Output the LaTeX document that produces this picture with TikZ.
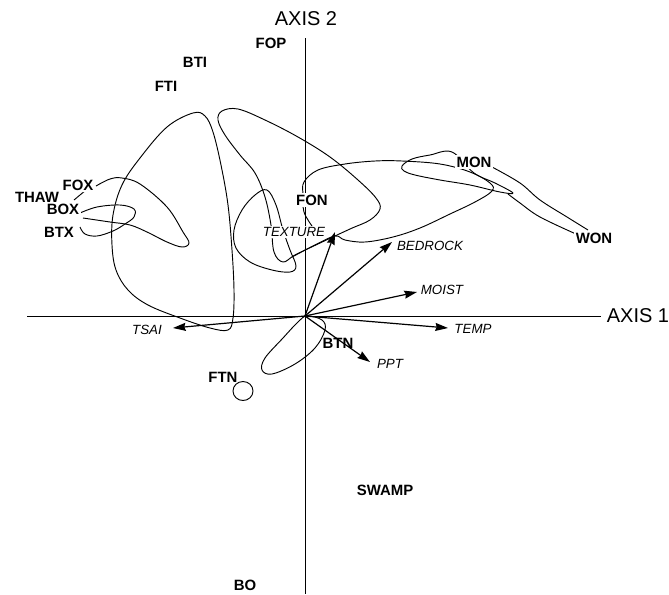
\documentclass[tikz,border=0pt]{standalone}
\usepackage{fontspec}
\setmainfont{Liberation Sans}
\usetikzlibrary{arrows.meta}

\tikzset{
  site/.style={font=\fontsize{11.2}{12}\selectfont\bfseries, inner sep=1pt},
  sitew/.style={site, fill=white},
  vlab/.style={font=\fontsize{10}{11}\selectfont\itshape, inner sep=1pt},
  axlab/.style={font=\fontsize{15}{16}\selectfont, inner sep=0pt},
  vec/.style={line width=0.9pt, -{Stealth[length=9.5pt,width=6pt,inset=1pt]}},
  hull/.style={line width=0.7pt, line join=round},
}

\begin{document}
\begin{tikzpicture}[x=0.75pt, y=-0.75pt]
\useasboundingbox (0,0) rectangle (669,594);
% axes
\coordinate (O) at (305,316);
\draw[line width=0.7pt] (27,316) -- (601,316);
\draw[line width=0.7pt] (305,38) -- (305,594);
\node[axlab] (ax1) at (638,316) {AXIS 1};
\node[axlab] (ax2) at (306,19) {AXIS 2};

% hulls
\draw[hull] plot[smooth cycle, tension=0.6] coordinates {(193,113) (167,127) (140,158) (122,185) (113,215) (112,245) (116,270) (128,290) (148,305) (180,318) (210,328) (228,330) (233,318) (234,290) (232,250) (228,205) (221,165) (213,132) (205,116)}; % big left loop
\draw[hull] plot[smooth, tension=0.6] coordinates {(96,186) (110,179) (122,178) (140,184) (167,207) (183,232) (189,243) (182,247) (167,242) (147,232) (130,225) (110,222) (83,218)}; % FOX drop
\draw[hull] plot[smooth, tension=0.6] coordinates {(80,213) (97,207) (120,205) (134,209) (134,217) (125,224) (113,231) (97,236) (85,234) (80,227)}; % BOX - BTX
\draw[hull] (74,200) -- (86,190);
\draw[hull] plot[smooth cycle, tension=0.6] coordinates {(222,111) (238,109) (265,120) (298,137) (330,157) (358,180) (376,198) (380,209) (370,220) (350,229) (320,243) (295,255) (283,262) (274,252) (271,225) (265,197) (255,173) (240,155) (225,135) (218,120)};
\draw[hull] plot[smooth cycle, tension=0.6] coordinates {(267,190) (255,195) (242,210) (234,230) (236,248) (250,262) (272,270) (290,272) (296,266) (290,250) (283,230) (276,205)};
\draw[hull] plot[smooth, tension=0.6] coordinates {(312,226) (304,212) (303,195) (304,182) (318,170) (345,164) (375,161) (402,161) (440,164) (470,172) (490,183) (492,191) (475,202) (450,214) (420,228) (393,237) (365,242) (345,240) (335,236) (315,245) (292,257)}; % FON
\draw[hull] plot[smooth cycle, tension=0.6] coordinates {(402,166) (412,159) (430,155) (452,152) (474,173) (495,183) (513,193) (500,192) (470,185) (440,180) (415,175) (404,171)}; % MON
\draw[hull] plot[smooth, tension=0.6] coordinates {(492,167) (520,183) (540,200) (567,217) (588,230)};
\draw[hull] plot[smooth, tension=0.6] coordinates {(576,234) (540,217) (520,203) (508,194)};
\draw[hull] plot[smooth cycle, tension=0.6] coordinates {(307,316) (322,320) (325,330) (315,348) (295,364) (272,374) (262,370) (265,358) (283,338) (298,322)}; % BTN
\draw[hull] (243,391) circle[x radius=10, y radius=9.5]; % FTN

% environmental vectors
\coordinate (tsaiTip) at (173,328);
\coordinate (tempTip) at (448,328);
\coordinate (moistTip) at (417,292);
\coordinate (bedTip) at (392,242);
\coordinate (texTip) at (335,232);
\coordinate (pptTip) at (370,362);
\foreach \t in {tsaiTip,tempTip,moistTip,bedTip,texTip,pptTip}
  \draw[vec] (O) -- (\t);
\node[vlab] (tsai) at (147,330) {TSAI};
\node[vlab] (temp) at (473,329) {TEMP};
\node[vlab] (moist) at (442,290) {MOIST};
\node[vlab] (bedrock) at (430,246) {BEDROCK};
\node[vlab, fill=white] (texture) at (294,232) {TEXTURE};
\node[vlab] (ppt) at (390,364) {PPT};

% sites
\node[site] (fop) at (271,43) {FOP};
\node[site] (bti) at (195,62) {BTI};
\node[site] (fti) at (166,86) {FTI};
\node[sitew] (fon) at (312,200) {FON};
\node[sitew] (mon) at (474,162) {MON};
\node[sitew] (won) at (594,238) {WON};
\node[site] (thaw) at (37,197) {THAW};
\node[sitew] (fox) at (78,185) {FOX};
\node[sitew] (box) at (63,209) {BOX};
\node[sitew] (btx) at (59,232) {BTX};
\node[site] (btn) at (338,343) {BTN};
\node[site] (ftn) at (223,377) {FTN};
\node[site] (swamp) at (385,490) {SWAMP};
\node[site] (bo) at (245,585) {BO};
\end{tikzpicture}
\end{document}
